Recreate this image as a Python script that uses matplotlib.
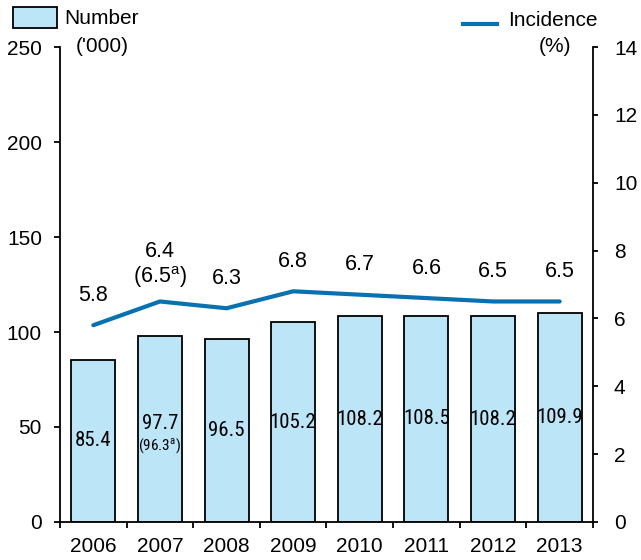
import matplotlib
matplotlib.use("Agg")
import matplotlib.pyplot as plt
from matplotlib import font_manager
import numpy as np

years = ["2006", "2007", "2008", "2009", "2010", "2011", "2012", "2013"]
number = [85.4, 97.7, 96.5, 105.2, 108.2, 108.5, 108.2, 109.9]
number_labels = ["85.4", "97.7", "96.5", "105.2", "108.2", "108.5", "108.2", "109.9"]
incidence = [5.8, 6.5, 6.3, 6.8, 6.7, 6.6, 6.5, 6.5]
incidence_labels = ["5.8", "6.4", "6.3", "6.8", "6.7", "6.6", "6.5", "6.5"]
left_ticks = [0, 50, 100, 150, 200, 250]
right_ticks = [0, 2, 4, 6, 8, 10, 12, 14]

plt.rcParams['font.family'] = ['Liberation Sans', 'DejaVu Sans']
bar_color = "#BDE5F8"
line_color = "#0872B0"
FS = 15

installed = {f.name for f in font_manager.fontManager.ttflist}
narrow_font = None
for cand in ['Liberation Sans Narrow', 'Arial Narrow', 'DejaVu Sans Condensed', 'Roboto Condensed']:
    if cand in installed:
        narrow_font = cand
        break
if narrow_font:
    narrow = [narrow_font, 'Liberation Sans', 'DejaVu Sans']
    nfs, nfs_small = 15, 11
else:
    narrow = ['Liberation Sans', 'DejaVu Sans']
    nfs, nfs_small = 14, 10

fig = plt.figure(figsize=(6.41, 5.6), dpi=100)
ax = fig.add_axes([0.0936, 0.0679, 0.8315, 0.8481])
x = np.arange(len(years))
ax.bar(x, number, width=0.66, color=bar_color, edgecolor="black", linewidth=1.3, zorder=2)
ax.set_xlim(-0.5, len(years) - 0.5)
ax.set_ylim(0, 250)
ax.set_yticks(left_ticks)
ax.set_yticklabels([str(t) for t in left_ticks], fontsize=FS)
ax.set_xticks(x)
ax.set_xticklabels(years, fontsize=FS)
ax.tick_params(axis='x', length=0, pad=11)
ax.set_xticks(np.arange(len(years) + 1) - 0.5, minor=True)
ax.tick_params(axis='x', which='minor', length=4.3, width=1.3, direction='out')
ax.tick_params(axis='y', length=4.5, width=1.3, direction='out', pad=8.5)
for s in ['top', 'right']:
    ax.spines[s].set_visible(False)
for s in ['left', 'bottom']:
    ax.spines[s].set_linewidth(1.3)

for i, (v, lab) in enumerate(zip(number, number_labels)):
    if i == 1:
        ax.text(i, v / 2 + 3, lab, ha='center', va='center', fontsize=nfs, family=narrow)
        ax.text(i, v / 2 - 9, "(96.3$^{\\mathregular{a}}$)", ha='center', va='center',
                fontsize=nfs_small, family=narrow)
    else:
        ax.text(i, v / 2, lab, ha='center', va='center', fontsize=nfs, family=narrow)

ax2 = ax.twinx()
ax2.plot(x, incidence, color=line_color, linewidth=3, solid_capstyle='round', zorder=3)
ax2.set_ylim(0, 14)
ax2.set_yticks(right_ticks)
ax2.set_yticklabels([str(t) for t in right_ticks], fontsize=FS)
ax2.tick_params(axis='y', length=3.6, width=1.3, direction='out', pad=11.5)
for s in ['top', 'left', 'bottom']:
    ax2.spines[s].set_visible(False)
ax2.spines['right'].set_linewidth(1.3)

LFS = 15.5
for i, (v, lab) in enumerate(zip(incidence, incidence_labels)):
    if i == 1:
        ax2.annotate("(6.5$^{\\mathregular{a}}$)", (i, v), xytext=(0, 17.6), textcoords='offset points',
                     ha='center', va='center', fontsize=LFS)
        ax2.annotate(lab, (i, v), xytext=(0, 36), textcoords='offset points',
                     ha='center', va='center', fontsize=LFS)
    else:
        ax2.annotate(lab, (i, v), xytext=(0, 21.6), textcoords='offset points',
                     ha='center', va='center', fontsize=LFS)

# Legends drawn in figure pixel coordinates
W, H = 641, 560
def fx(px):
    return px / W
def fy(py):
    return 1 - py / H

fig.patches.append(plt.Rectangle((fx(12.5), fy(28)), fx(57) - fx(12.5), fy(7.5) - fy(28),
                                 transform=fig.transFigure, facecolor=bar_color,
                                 edgecolor='black', linewidth=1.3))
fig.text(fx(64), fy(19), "Number", fontsize=FS, ha='left', va='center')
fig.text(fx(102), fy(47), "('000)", fontsize=FS, ha='center', va='center')
fig.lines.append(plt.Line2D([fx(463), fx(497)], [fy(24), fy(24)], transform=fig.transFigure,
                            color=line_color, linewidth=3))
fig.text(fx(508), fy(21), "Incidence", fontsize=FS, ha='left', va='center')
fig.text(fx(555), fy(47), "(%)", fontsize=FS, ha='center', va='center')

fig.savefig("out.png", dpi=100)
